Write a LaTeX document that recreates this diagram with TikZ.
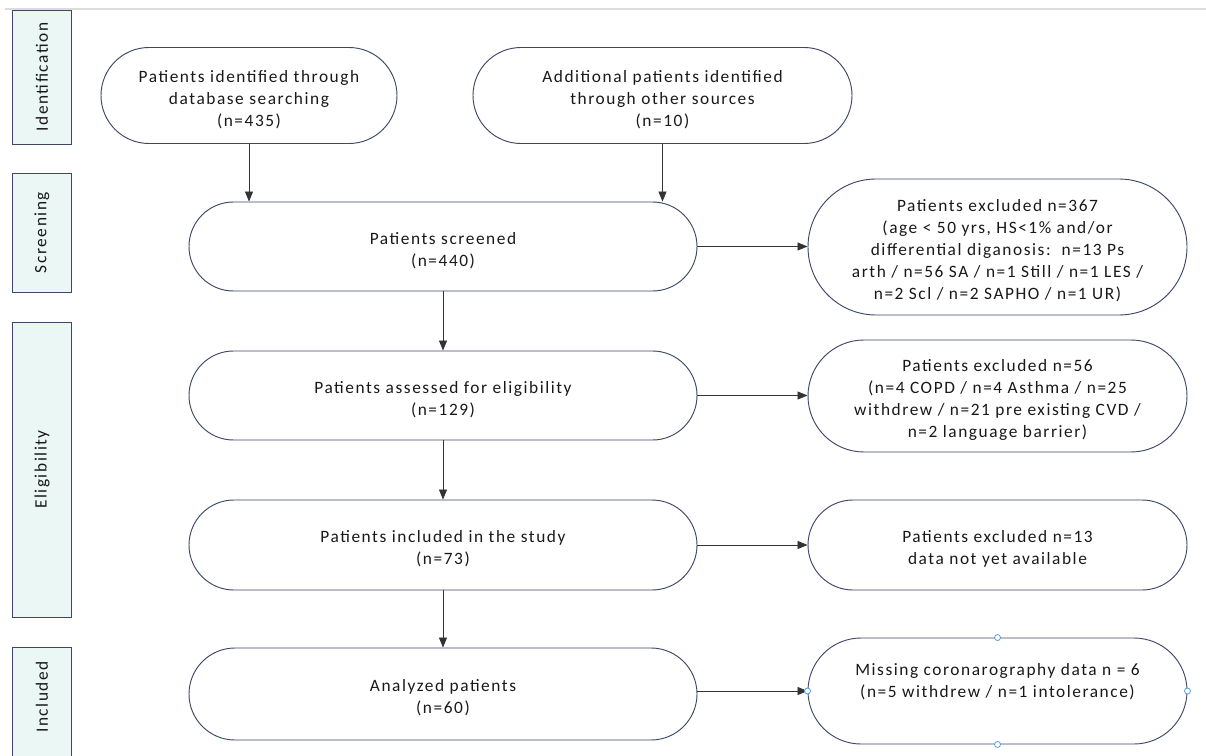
\documentclass[tikz,border=0pt]{standalone}
\usepackage{fontspec}
\setmainfont{Carlito}[LetterSpace=9]
\usetikzlibrary{arrows.meta,shapes.misc}
\definecolor{nodeborder}{HTML}{3E4766}
\definecolor{sidefill}{HTML}{EAF7F5}
\definecolor{sideborder}{HTML}{3E4766}
\definecolor{topline}{HTML}{DCDCDC}
\definecolor{handleblue}{HTML}{5B9BD5}
\definecolor{arrowgrey}{HTML}{333333}
\newcommand\toplift{\rule{0pt}{15pt}}
\begin{document}
\begin{tikzpicture}[x=0.75pt,y=-0.75pt,
  every node/.style={font=\fontsize{13}{16.5}\selectfont, text=black!90},
  box/.style={rounded rectangle, draw=nodeborder, line width=0.7pt, align=center, inner sep=0pt},
  side/.style={rectangle, draw=sideborder, fill=sidefill, line width=0.7pt, inner sep=0pt, minimum width=59*0.75pt},
  sidetext/.style={rotate=90},
  conn/.style={draw=arrowgrey, line width=0.6pt, -{Triangle[length=7.5pt,width=6pt]}},
  handle/.style={circle, draw=handleblue, fill=white, line width=0.6pt, minimum size=6*0.75pt, inner sep=0pt}
]
\useasboundingbox (0,0) rectangle (1206,756);
\fill[white] (0,0) rectangle (1206,756);
\draw[topline, line width=0.8pt] (5,9) -- (1206,9);

% side labels
\node[side, minimum height=134*0.75pt] (sIdent) at (42,77) {};
\node[sidetext] (tIdent) at (sIdent.center) {Identification};
\node[side, minimum height=119*0.75pt] (sScreen) at (42,232.5) {};
\node[sidetext] (tScreen) at (sScreen.center) {Screening};
\node[side, minimum height=295*0.75pt] (sElig) at (42,469.5) {};
\node[sidetext] (tElig) at (sElig.center) {Eligibility};
\node[side, minimum height=120*0.75pt] (sIncl) at (42,707) {};
\node[sidetext] (tIncl) at (42,697) {Included};

% main column
\node[box, minimum width=296*0.75pt, minimum height=96*0.75pt] (A) at (249,95.5)
  {\toplift Patients identified through\\database searching\\(n=435)};
\node[box, minimum width=379*0.75pt, minimum height=96*0.75pt] (B) at (662.5,95.5)
  {\toplift Additional patients identified\\through other sources\\(n=10)};
\node[box, minimum width=508*0.75pt, minimum height=89*0.75pt] (C) at (443,246.5)
  {\toplift Patients screened\\(n=440)};
\node[box, minimum width=508*0.75pt, minimum height=89*0.75pt] (D) at (443,395.5)
  {\toplift Patients assessed for eligibility\\(n=129)};
\node[box, minimum width=508*0.75pt, minimum height=90*0.75pt] (E) at (443,545)
  {\toplift Patients included in the study\\(n=73)};
\node[box, minimum width=508*0.75pt, minimum height=92*0.75pt] (F) at (443,694)
  {\toplift Analyzed patients\\(n=60)};

% right column
\node[box, minimum width=379*0.75pt, minimum height=136*0.75pt] (G) at (997.5,247)
  {\toplift Patients excluded n=367\\(age < 50 yrs, HS<1\% and/or\\differential diganosis:\ \ n=13 Ps\\arth / n=56 SA / n=1 Still / n=1 LES /\\n=2 Scl / n=2 SAPHO / n=1 UR)};
\node[box, minimum width=379*0.75pt, minimum height=112*0.75pt] (H) at (997.5,396)
  {\toplift Patients excluded n=56\\(n=4 COPD / n=4 Asthma / n=25\\withdrew / n=21 pre existing CVD /\\n=2 language barrier)};
\node[box, minimum width=379*0.75pt, minimum height=90*0.75pt] (I) at (997.5,545)
  {\toplift Patients excluded n=13\\data not yet available};
\node[box, minimum width=379*0.75pt, minimum height=106*0.75pt] (J) at (997.5,691)
  {\toplift Missing coronarography data n = 6\\(n=5 withdrew / n=1 intolerance)\\\strut};

% connectors
\draw[conn] (A.south) -- (A.south |- C.north);
\draw[conn] (B.south) -- (B.south |- C.north);
\draw[conn] (C.south) -- (D.north);
\draw[conn] (D.south) -- (E.north);
\draw[conn] (E.south) -- (F.north);
\draw[conn] (C.east) -- (C.east -| G.west);
\draw[conn] (D.east) -- (D.east -| H.west);
\draw[conn] (E.east) -- (E.east -| I.west);
\draw[conn] (J.west -| F.east) -- (J.west);

% selection handles
\node[handle] (hN) at (J.north) {};
\node[handle] (hS) at (J.south) {};
\node[handle] (hW) at (J.west) {};
\node[handle] (hE) at (J.east) {};
\end{tikzpicture}
\end{document}
